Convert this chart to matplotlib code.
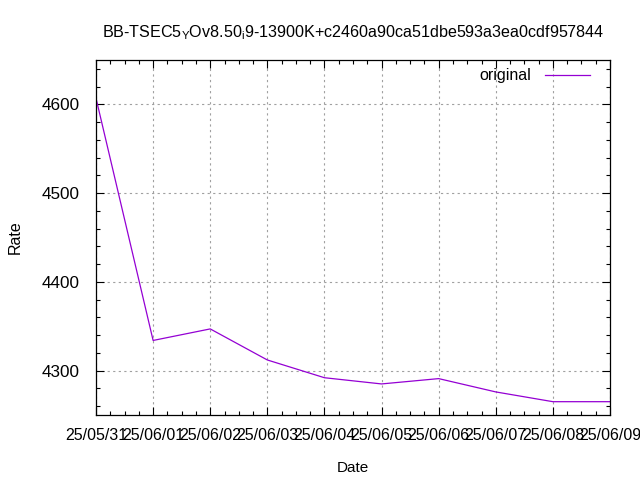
import matplotlib
matplotlib.use("Agg")
import matplotlib.pyplot as plt
import matplotlib.dates as mdates
from matplotlib.ticker import MultipleLocator
import numpy as np

plt.rcParams['font.family'] = ['Liberation Sans', 'DejaVu Sans']

dates = ['2025-05-31', '2025-06-01', '2025-06-02', '2025-06-03', '2025-06-04',
         '2025-06-05', '2025-06-06', '2025-06-07', '2025-06-08', '2025-06-09']
rate = [4607, 4334, 4347, 4312, 4292, 4285, 4291, 4276, 4265, 4265]

x = np.array(dates, dtype='datetime64[D]').astype('O')

fs = 11.5

fig = plt.figure(figsize=(6.4, 4.8), dpi=100)
ax = fig.add_axes([96 / 640, 1 - 415 / 480, (610 - 96) / 640, (415 - 60) / 480])

ax.plot(x, rate, color='#9400d3', linewidth=0.9, label='original')

ax.set_xlim(x[0], x[-1])
ax.set_ylim(4250, 4650)
ax.xaxis.set_major_locator(mdates.DayLocator())
ax.xaxis.set_minor_locator(mdates.HourLocator(byhour=[6, 12, 18]))
ax.xaxis.set_major_formatter(mdates.DateFormatter('%y/%m/%d'))
ax.yaxis.set_major_locator(MultipleLocator(100))
ax.yaxis.set_minor_locator(MultipleLocator(20))

ax.tick_params(which='both', direction='in', top=True, right=True,
               labelsize=fs, colors='black', width=0.8)
ax.tick_params(axis='y', labelsize=12.3)
ax.tick_params(which='major', length=6)
ax.tick_params(axis='x', which='major', pad=9)
ax.tick_params(axis='y', which='major', pad=12)
ax.tick_params(which='minor', length=3)
for s in ax.spines.values():
    s.set_linewidth(0.9)

ax.grid(True, which='major', linestyle=(0, (2, 3)), color='#a0a0a0', linewidth=0.8)

ax.set_xlabel('Date', fontsize=11, labelpad=13)
ax.set_ylabel('Rate', fontsize=fs, labelpad=13)
ax.set_title(r'BB-TSEC5$_{\mathregular{Y}}$Ov8.50$_{\mathregular{i}}$9-13900K+c2460a90ca51dbe593a3ea0cdf957844',
             fontsize=11.6, pad=16)

leg = ax.legend(loc='upper right', frameon=False, fontsize=fs, markerfirst=False,
                handlelength=2.8, handletextpad=0.9, borderaxespad=0.0,
                bbox_to_anchor=(0.973, 0.995))

fig.savefig('out.png', dpi=100)
